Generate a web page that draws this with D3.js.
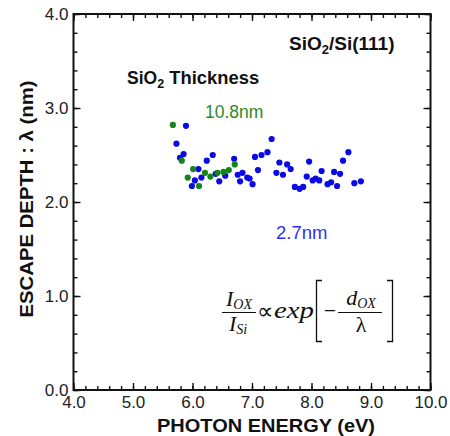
<!DOCTYPE html>
<html><head><meta charset="utf-8">
<script src="https://cdn.jsdelivr.net/npm/d3@7"></script>
<style>body{margin:0;background:#fff}svg{display:block}</style>
</head><body><svg id="c" width="450" height="436"></svg>
<script>
// ---- data ----
const xTicks = [4.0, 5.0, 6.0, 7.0, 8.0, 9.0, 10.0];
const yTicks = [0.0, 1.0, 2.0, 3.0, 4.0];
const seriesNames = ["10.8nm", "2.7nm"];
const green108x = [5.67, 5.82, 6.01, 6.21, 5.92, 6.11, 6.30, 6.42, 6.52, 6.61, 6.71];
const green108y = [2.82, 2.44, 2.35, 2.31, 2.26, 2.17, 2.27, 2.31, 2.32, 2.34, 2.40];
const blue27x = [5.89, 5.73, 5.85, 5.79, 6.34, 6.24, 6.70, 6.10, 6.04, 6.15, 5.99, 6.39, 6.45, 6.55, 6.76, 6.84, 6.80, 6.92, 6.96, 7.01,
  7.33, 7.05, 7.16, 7.26, 7.10, 7.46, 7.59, 7.65, 7.41, 7.52, 7.72, 7.80, 7.86, 7.96, 7.92, 8.02, 8.07, 8.13, 8.17, 8.27, 8.33, 8.43, 8.38, 8.48, 8.53, 8.62, 8.72, 8.83];
const blue27y = [2.81, 2.62, 2.51, 2.47, 2.50, 2.44, 2.46, 2.35, 2.23, 2.26, 2.17, 2.30, 2.22, 2.28, 2.29, 2.31, 2.22, 2.26, 2.25, 2.19,
  2.67, 2.48, 2.50, 2.53, 2.34, 2.42, 2.40, 2.35, 2.31, 2.29, 2.16, 2.14, 2.16, 2.43, 2.27, 2.23, 2.25, 2.23, 2.33, 2.19, 2.21, 2.17, 2.32, 2.30, 2.44, 2.53, 2.20, 2.22];

const svg = d3.select("#c");
svg.append("rect").attr("width",450).attr("height",436).attr("fill","#fff");
const L=73.5, R=430.5, T=14, B=390;
const x = d3.scaleLinear().domain([4,10]).range([L,R]);
const y = d3.scaleLinear().domain([0,4]).range([B,T]);
const xMinor = d3.range(4,10.001,0.2).map(v=>+v.toFixed(1));
const yMinor = d3.range(0,4.001,0.2).map(v=>+v.toFixed(1));
const fmt = d3.format(".1f");
const tickFont = "'Liberation Sans', Arial, sans-serif";

function styleAxis(g){ g.select(".domain").remove(); g.selectAll("line").attr("stroke","#111").attr("stroke-width",1.4); }

// minor ticks
svg.append("g").attr("transform",`translate(0,${B})`).call(d3.axisBottom(x).tickValues(xMinor).tickSize(-4).tickFormat("")).call(styleAxis);
svg.append("g").attr("transform",`translate(0,${T})`).call(d3.axisTop(x).tickValues(xMinor).tickSize(-4).tickFormat("")).call(styleAxis);
svg.append("g").attr("transform",`translate(${L},0)`).call(d3.axisLeft(y).tickValues(yMinor).tickSize(-4).tickFormat("")).call(styleAxis);
svg.append("g").attr("transform",`translate(${R},0)`).call(d3.axisRight(y).tickValues(yMinor).tickSize(-4).tickFormat("")).call(styleAxis);
// major ticks with labels
const xb = svg.append("g").attr("transform",`translate(0,${B})`).call(d3.axisBottom(x).tickValues(xTicks).tickSize(-7).tickPadding(6).tickFormat(fmt)).call(styleAxis);
svg.append("g").attr("transform",`translate(0,${T})`).call(d3.axisTop(x).tickValues(xTicks).tickSize(-7).tickFormat("")).call(styleAxis);
const yl = svg.append("g").attr("transform",`translate(${L},0)`).call(d3.axisLeft(y).tickValues(yTicks).tickSize(-7).tickPadding(5).tickFormat(fmt)).call(styleAxis);
svg.append("g").attr("transform",`translate(${R},0)`).call(d3.axisRight(y).tickValues(yTicks).tickSize(-7).tickFormat("")).call(styleAxis);
[xb,yl].forEach(g=>g.selectAll("text").attr("font-family",tickFont).attr("font-size",17).attr("fill","#222"));

// frame
svg.append("rect").attr("x",L).attr("y",T).attr("width",R-L).attr("height",B-T)
  .attr("fill","none").attr("stroke","#111").attr("stroke-width",2);

// points
const blueData = blue27x.map((v,i)=>({x:v,y:blue27y[i]}));
const greenData = green108x.map((v,i)=>({x:v,y:green108y[i]}));
svg.append("g").selectAll("circle").data(blueData).join("circle")
  .attr("cx",d=>x(d.x)).attr("cy",d=>y(d.y)).attr("r",3.1).attr("fill","#0a0ae6");
svg.append("g").selectAll("circle").data(greenData).join("circle")
  .attr("cx",d=>x(d.x)).attr("cy",d=>y(d.y)).attr("r",3.1).attr("fill","#15841a");

// axis titles
const bold = "'Liberation Sans', Arial, sans-serif";
svg.append("text").attr("x",266).attr("y",432).attr("text-anchor","middle")
  .attr("font-family",bold).attr("font-weight","bold").attr("font-size",19).attr("fill","#111")
  .attr("textLength",218).attr("lengthAdjust","spacingAndGlyphs").text("PHOTON ENERGY (eV)");
svg.append("text").attr("transform","translate(33,199) rotate(-90)").attr("text-anchor","middle")
  .attr("font-family",bold).attr("font-weight","bold").attr("font-size",18).attr("fill","#111")
  .attr("textLength",237).attr("lengthAdjust","spacingAndGlyphs").text("ESCAPE DEPTH : λ  (nm)");

// annotations
const t1 = svg.append("text").attr("x",289).attr("y",50).attr("font-family",bold).attr("font-weight","bold").attr("font-size",19).attr("fill","#111");
t1.append("tspan").text("SiO");
t1.append("tspan").attr("font-size",13).attr("dy",4).text("2");
t1.append("tspan").attr("dy",-4).text("/Si(111)");
const t2 = svg.append("text").attr("x",127).attr("y",84).attr("font-family",bold).attr("font-weight","bold").attr("font-size",17.5).attr("fill","#111");
t2.append("tspan").text("SiO");
t2.append("tspan").attr("font-size",12.5).attr("dy",4).text("2");
t2.append("tspan").attr("dy",-4).attr("textLength",95).attr("lengthAdjust","spacingAndGlyphs").text(" Thickness");
svg.append("text").attr("x",205).attr("y",118).attr("font-family",bold).attr("font-size",17.5).attr("fill","#2a8a2a").text(seriesNames[0]);
svg.append("text").attr("x",276).attr("y",239).attr("font-family",bold).attr("font-size",18.5).attr("fill","#2f2ff5").text(seriesNames[1]);

// formula
const serif = "'Liberation Serif', 'Times New Roman', serif";
const f = svg.append("g").attr("font-family",serif).attr("fill","#111");
function sub(parent, x0, yb, main, s, anchor){
  const t = parent.append("text").attr("x",x0).attr("y",yb).attr("text-anchor",anchor||"middle").attr("font-style","italic").attr("font-size",22);
  t.append("tspan").text(main);
  t.append("tspan").attr("font-size",14).attr("dy",3).text(s);
  return t;
}
sub(f,239,306,"I","OX");
f.append("line").attr("x1",222).attr("x2",256).attr("y1",312.5).attr("y2",312.5).attr("stroke","#111").attr("stroke-width",1.1);
sub(f,238,331,"I","Si");
f.append("text").attr("x",265).attr("y",319).attr("text-anchor","middle").attr("font-size",23).text("∝");
f.append("text").attr("x",274).attr("y",318).attr("font-style","italic").attr("font-size",23)
  .attr("textLength",40).attr("lengthAdjust","spacingAndGlyphs").text("exp");
f.append("path").attr("d","M322,280.5H316.5V341.5H322").attr("fill","none").attr("stroke","#111").attr("stroke-width",1.3);
f.append("text").attr("x",330).attr("y",318).attr("text-anchor","middle").attr("font-size",22).text("−");
sub(f,361,305,"d","OX");
f.append("line").attr("x1",338).attr("x2",382).attr("y1",312.5).attr("y2",312.5).attr("stroke","#111").attr("stroke-width",1.1);
f.append("text").attr("x",361).attr("y",332).attr("text-anchor","middle").attr("font-size",22).text("λ");
f.append("path").attr("d","M387,280.5H392.5V341.5H387").attr("fill","none").attr("stroke","#111").attr("stroke-width",1.3);
</script></body></html>
